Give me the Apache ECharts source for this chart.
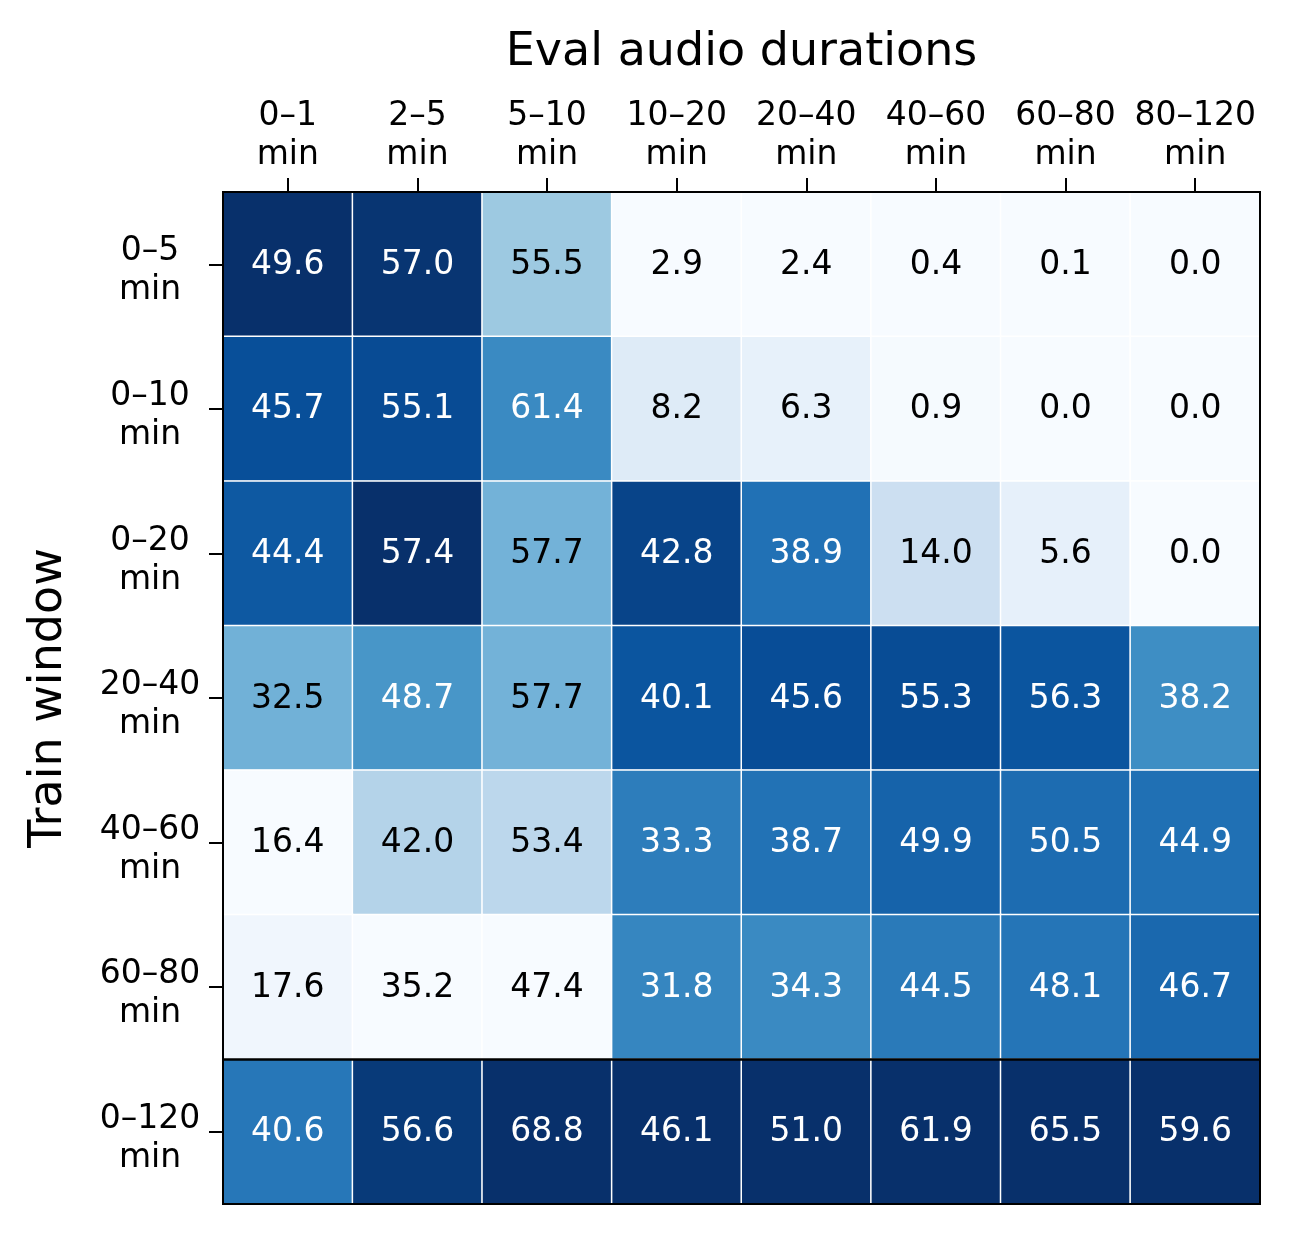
<!DOCTYPE html>
<html>
<head>
<meta charset="utf-8">
<title>Train window vs eval audio durations</title>
<script src="https://cdn.jsdelivr.net/npm/echarts@6/dist/echarts.min.js"></script>
<style>
    html, body { margin: 0; padding: 0; background: #fff; }
    #chart { width: 1290px; height: 1235px; }
</style>
</head>
<body>
<div id="chart"></div>
<script>
// columns = eval audio durations, rows = train windows
const evalDurations = ['0–1', '2–5', '5–10', '10–20', '20–40', '40–60', '60–80', '80–120']
const trainWindows = ['0–5', '0–10', '0–20', '20–40', '40–60', '60–80', '0–120']

const win0to5 = [49.6, 57.0, 55.5, 2.9, 2.4, 0.4, 0.1, 0.0]
const win0to10 = [45.7, 55.1, 61.4, 8.2, 6.3, 0.9, 0.0, 0.0]
const win0to20 = [44.4, 57.4, 57.7, 42.8, 38.9, 14.0, 5.6, 0.0]
const win20to40 = [32.5, 48.7, 57.7, 40.1, 45.6, 55.3, 56.3, 38.2]
const win40to60 = [16.4, 42.0, 53.4, 33.3, 38.7, 49.9, 50.5, 44.9]
const win60to80 = [17.6, 35.2, 47.4, 31.8, 34.3, 44.5, 48.1, 46.7]
const win0to120 = [40.6, 56.6, 68.8, 46.1, 51.0, 61.9, 65.5, 59.6]

const scores = [win0to5, win0to10, win0to20, win20to40, win40to60, win60to80, win0to120]

// matplotlib "Blues"
const BLUES = ['#f7fbff', '#deebf7', '#c6dbef', '#9ecae1', '#6baed6', '#4292c6', '#2171b5', '#08519c', '#08306b']
const FONT = 'DejaVu Sans'

// colour is scaled per column (min..max of each eval duration)
const colRange = evalDurations.map((_, c) => {
    const col = scores.map(row => row[c])
    return [Math.min(...col), Math.max(...col)]
})

const cells = []
scores.forEach((row, r) => {
    row.forEach((v, c) => {
        const [lo, hi] = colRange[c]
        const t = hi > lo ? (v - lo) / (hi - lo) : 0
        cells.push({
            value: [c, r, v, t],
            label: { color: t > 0.55 ? '#fff' : '#000' }
        })
    })
})

const tick = { show: true, alignWithLabel: true, length: 14, lineStyle: { color: '#000', width: 2 } }
const labelText = { fontFamily: FONT, fontSize: 33, lineHeight: 39, color: '#000' }
const nameText = { fontFamily: FONT, fontSize: 46, color: '#000' }

const chart = echarts.init(document.getElementById('chart'))

chart.setOption({
    animation: false,
    backgroundColor: '#fff',
    grid: { left: 223, top: 192, width: 1037, height: 1012, outerBoundsMode: 'none' },
    xAxis: {
        type: 'category',
        position: 'top',
        data: evalDurations,
        name: 'Eval audio durations',
        nameLocation: 'middle',
        nameGap: 116,
        nameTextStyle: nameText,
        axisLine: { show: false },
        axisTick: tick,
        axisLabel: Object.assign({ formatter: v => v + '\nmin', margin: 17, interval: 0 }, labelText),
        splitLine: { show: false }
    },
    yAxis: {
        type: 'category',
        inverse: true,
        data: trainWindows,
        name: 'Train window',
        nameLocation: 'middle',
        nameGap: 151,
        nameTextStyle: nameText,
        axisLine: { show: false },
        axisTick: tick,
        axisLabel: Object.assign({
            // top padding nudges the two lines a bit below the tick, like matplotlib does
            formatter: v => '{t|' + v + '}\n{t|min}',
            rich: { t: Object.assign({ padding: [14, 0, 0, 0] }, labelText) },
            align: 'center',
            margin: 73,
            interval: 0
        }, labelText),
        splitLine: { show: false }
    },
    visualMap: {
        show: false,
        seriesIndex: 0,
        dimension: 3,
        min: 0,
        max: 1,
        inRange: { color: BLUES }
    },
    series: [
        {
            type: 'heatmap',
            data: cells,
            itemStyle: { borderColor: '#fff', borderWidth: 1.5 },
            label: {
                show: true,
                formatter: p => p.value[2].toFixed(1),
                fontFamily: FONT,
                fontSize: 33,
                offset: [0, 1]
            },
            emphasis: { disabled: true }
        },
        {
            // frame + separator above the 0–120 row
            type: 'custom',
            silent: true,
            clip: false,
            z: 10,
            data: [[0, trainWindows.length - 1]],
            renderItem: (params, api) => {
                const cs = params.coordSys
                const rowTop = api.coord([0, api.value(1)])[1] - api.size([1, 1])[1] / 2
                return {
                    type: 'group',
                    children: [
                        {
                            type: 'rect',
                            shape: { x: cs.x, y: cs.y, width: cs.width, height: cs.height },
                            style: { fill: 'none', stroke: '#000', lineWidth: 2 }
                        },
                        {
                            type: 'line',
                            shape: { x1: cs.x, y1: rowTop, x2: cs.x + cs.width, y2: rowTop },
                            style: { stroke: '#000', lineWidth: 2.5 }
                        }
                    ]
                }
            }
        }
    ]
})
</script>
</body>
</html>
